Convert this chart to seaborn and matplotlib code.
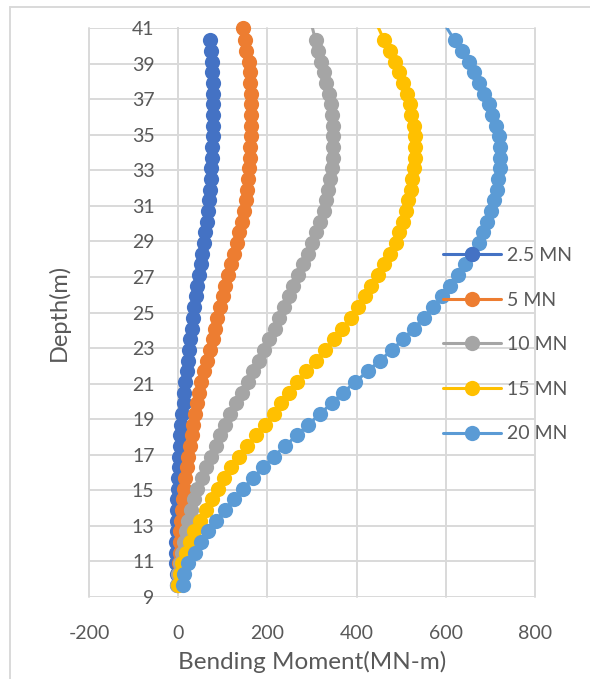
import matplotlib
matplotlib.use("Agg")
import matplotlib.pyplot as plt
from matplotlib.lines import Line2D
import pandas as pd
import seaborn as sns

# Depth of each output station along the pile (m)
depth = [9.7, 10.3, 10.9, 11.5, 12.1, 12.7, 13.3, 13.9, 14.5, 15.1,
         15.7, 16.3, 16.9, 17.5, 18.1, 18.7, 19.3, 19.9, 20.5, 21.1,
         21.7, 22.3, 22.9, 23.5, 24.1, 24.7, 25.3, 25.9, 26.5, 27.1,
         27.7, 28.3, 28.9, 29.5, 30.1, 30.7, 31.3, 31.9, 32.5, 33.1,
         33.7, 34.3, 34.9, 35.5, 36.1, 36.7, 37.3, 37.9, 38.5, 39.1,
         39.7, 40.3]

# Bending moment (MN-m) at each station, one list per lateral load
m_2_5 = [-3, -3, -4, -4, -4, -3, -3, -2, -2, -1,
         0, 1, 2, 3, 5, 7, 9, 12, 14, 16,
         19, 22, 25, 27, 30, 33, 36, 39, 43, 46,
         50, 54, 58, 61, 64, 67, 69, 71, 73, 74,
         75, 76, 77, 77, 78, 78, 78, 77, 76, 75,
         74, 72]
m_5 = [0, 1, 2, 3, 4, 5, 7, 8, 10, 13,
       16, 20, 23, 27, 30, 33, 37, 42, 46, 51,
       58, 65, 72, 78, 83, 88, 94, 100, 105, 111,
       118, 125, 132, 137, 142, 147, 151, 154, 156, 158,
       160, 161, 163, 163, 163, 163, 163, 162, 160, 158,
       153, 149]
m_10 = [-3, 0, 3, 8, 12, 17, 22, 29, 35, 43,
        53, 63, 73, 84, 94, 105, 117, 130, 143, 156,
        168, 181, 193, 204, 216, 227, 238, 248, 258, 268,
        279, 290, 301, 310, 318, 326, 332, 336, 340, 344,
        346, 347, 348, 346, 345, 343, 338, 332, 327, 321,
        314, 308]
m_15 = [0, 4, 8, 17, 26, 36, 49, 62, 75, 89,
        103, 119, 136, 155, 175, 195, 214, 231, 248, 266,
        287, 308, 329, 349, 368, 387, 404, 419, 433, 447,
        461, 474, 488, 496, 503, 510, 516, 521, 525, 529,
        530, 531, 531, 528, 523, 519, 512, 503, 494, 485,
        474, 462]
m_20 = [10, 14, 23, 37, 52, 67, 85, 105, 124, 145,
        168, 191, 214, 240, 266, 292, 318, 344, 370, 397,
        425, 452, 480, 504, 528, 551, 572, 591, 609, 628,
        643, 659, 674, 684, 693, 702, 709, 714, 718, 722,
        722, 721, 719, 712, 704, 696, 686, 675, 664, 652,
        636, 620]

# Stations at the pile head (some lie just above the plotted depth range)
head_depth_5, head_5 = 41.0, 146
head_depth_upper = 41.5
head_10, head_15, head_20 = 296, 440, 590

labels = ["2.5 MN", "5 MN", "10 MN", "15 MN", "20 MN"]
colors = ["#4472C4", "#ED7D31", "#A5A5A5", "#FFC000", "#5B9BD5"]

series = [
    (depth, m_2_5),
    (depth + [head_depth_5], m_5 + [head_5]),
    (depth + [head_depth_upper], m_10 + [head_10]),
    (depth + [head_depth_upper], m_15 + [head_15]),
    (depth + [head_depth_upper], m_20 + [head_20]),
]

x_ticks = [-200, 0, 200, 400, 600, 800]
y_ticks = list(range(9, 42, 2))

sns.set_theme(style="white")
plt.rcParams["font.family"] = ["Lato", "DejaVu Sans"]
plt.rcParams["axes.unicode_minus"] = False
text_color = "#595959"
grid_color = "#D9D9D9"

fig = plt.figure(figsize=(5.9, 6.79), dpi=100)
ax = fig.add_axes([89 / 590, 1 - 597 / 679, (535 - 89) / 590, (597 - 28) / 679])

for i, ((d, m), lab, col) in enumerate(zip(series, labels, colors)):
    df = pd.DataFrame({"moment": m, "depth": d})
    sns.lineplot(data=df, x="moment", y="depth", orient="y", sort=False,
                 estimator=None, color=col, lw=2.2, ax=ax, zorder=2 + 2 * i)
    shown = df[df["depth"] <= y_ticks[-1]]
    sns.scatterplot(data=shown, x="moment", y="depth", color=col, s=120,
                    linewidth=0, ax=ax, zorder=3 + 2 * i, clip_on=False)

ax.set_xlim(x_ticks[0], x_ticks[-1])
ax.set_ylim(y_ticks[0], y_ticks[-1])
ax.set_xticks(x_ticks)
ax.set_yticks(y_ticks)
ax.grid(True, color=grid_color, lw=1.4)
ax.set_axisbelow(True)
for line in ax.get_xgridlines() + ax.get_ygridlines():
    line.set_clip_on(False)
for side in ["top", "right", "bottom"]:
    ax.spines[side].set_visible(False)
# vertical axis crosses at zero moment
ax.spines["left"].set_position(("data", 0))
ax.spines["left"].set_color(grid_color)
ax.spines["left"].set_linewidth(1.4)

ax.tick_params(axis="both", length=0, labelsize=14, colors=text_color)
ax.tick_params(axis="y", pad=17)
ax.tick_params(axis="x", pad=20)

ax.set_xlabel("Bending Moment(MN-m)", fontsize=17.5, color=text_color)
ax.set_ylabel("Depth(m)", fontsize=17, color=text_color)
ax.xaxis.set_label_coords(0.5, -0.095)
ax.yaxis.set_label_coords(-0.042, 0.5)

handles = [Line2D([], [], color=c, lw=2.2, marker="o", ms=11, mew=0)
           for c in colors]
fig.legend(handles, labels, loc="upper left",
           bbox_to_anchor=(443 / 590, 1 - 247 / 679), frameon=False,
           fontsize=14, handlelength=3.0, handletextpad=0.3,
           labelspacing=1.42, borderpad=0, borderaxespad=0,
           labelcolor=text_color)

# chart-area border
fig.add_artist(Line2D([10 / 590, 10 / 590], [0, 1 - 7 / 679],
                      transform=fig.transFigure, color=grid_color, lw=1.4))
fig.add_artist(Line2D([10 / 590, 1], [1 - 7 / 679, 1 - 7 / 679],
                      transform=fig.transFigure, color=grid_color, lw=1.4))

fig.savefig("out.png", dpi=100)
